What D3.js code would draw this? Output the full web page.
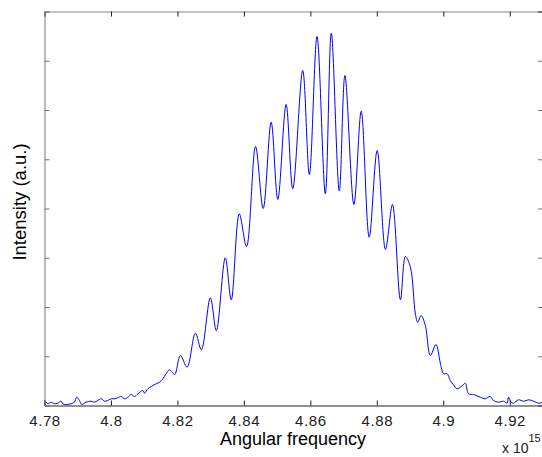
<!DOCTYPE html>
<html>
<head>
<meta charset="utf-8">
<script src="https://cdn.jsdelivr.net/npm/d3@7"></script>
<style>
html,body{margin:0;padding:0;background:#fff;overflow:hidden;}
svg{display:block;}
text{font-family:"Liberation Sans",Arial,sans-serif;}
</style>
</head>
<body>
<svg id="chart" width="542" height="457"></svg>
<script>
// Angular frequency (x 10^15)
const freq = [4.7800,4.7805,4.7810,4.7820,4.7830,4.7840,4.7850,4.7855,4.7865,4.7880,
4.7890,4.7897,4.7905,4.7912,4.7925,4.7940,4.7950,4.7960,4.7971,4.7980,
4.7990,4.8001,4.8011,4.8020,4.8031,4.8041,4.8051,4.8061,4.8071,4.8081,
4.8096,4.8101,4.8111,4.8121,4.8136,4.8146,4.8156,4.8166,4.8176,4.8184,
4.8192,4.8209,4.8229,4.8254,4.8272,4.8299,4.8317,4.8344,4.8362,4.8386,
4.8408,4.8435,4.8458,4.8482,4.8502,4.8527,4.8547,4.8577,4.8597,4.8620,
4.8645,4.8663,4.8687,4.8704,4.8731,4.8753,4.8777,4.8801,4.8826,4.8847,
4.8871,4.8886,4.8901,4.8916,4.8923,4.8933,4.8946,4.8961,4.8978,4.8991,
4.9001,4.9011,4.9021,4.9030,4.9041,4.9056,4.9066,4.9076,4.9091,4.9111,
4.9126,4.9141,4.9151,4.9166,4.9181,4.9192,4.9196,4.9204,4.9211,4.9226,
4.9242,4.9257,4.9272,4.9287,4.9300];
// Intensity (a.u.)
const intensity = [0.102,0.067,0.035,0.067,0.035,0.047,0.087,0.035,0.020,0.035,
0.067,0.169,0.102,0.020,0.067,0.087,0.067,0.102,0.136,0.087,
0.102,0.136,0.136,0.156,0.183,0.136,0.169,0.223,0.183,0.238,
0.305,0.250,0.339,0.386,0.441,0.473,0.542,0.644,0.725,0.676,
0.629,1.015,0.778,1.468,1.131,2.187,1.523,2.999,2.146,3.892,
3.228,5.259,4.000,5.752,4.183,6.112,4.400,6.802,4.690,7.492,
4.298,7.560,4.355,6.701,4.081,5.976,3.417,5.178,3.168,4.081,
2.146,3.025,2.808,1.862,1.691,1.827,1.624,1.015,1.239,0.863,
0.644,0.650,0.508,0.426,0.339,0.396,0.453,0.238,0.223,0.169,
0.136,0.183,0.102,0.067,0.087,0.047,0.169,0.067,0.047,0.116,
0.087,0.116,0.087,0.047,0.067];
const xTicks = [4.78,4.8,4.82,4.84,4.86,4.88,4.9,4.92];
const yTicks = [0,1,2,3,4,5,6,7,8];

const svg = d3.select("#chart");
const L = 44.5, R = 543, T = 11.5, B = 405.5;
const x = d3.scaleLinear().domain([4.78,4.93]).range([L,R]);
const y = d3.scaleLinear().domain([0,8]).range([B,T]);

const data = freq.map((f,i)=>({f, v: intensity[i]}));

// curve
svg.append("clipPath").attr("id","clip").append("rect")
  .attr("x",L).attr("y",T).attr("width",R-L).attr("height",B-T);
svg.append("path").datum(data)
  .attr("clip-path","url(#clip)")
  .attr("fill","none").attr("stroke","#0000ff").attr("stroke-width",1)
  .attr("d", d3.line().x(d=>x(d.f)).y(d=>y(d.v)).curve(d3.curveCatmullRom.alpha(0.5)));

// axes
const fmt = d => (+d.toFixed(2)).toString();
const gB = svg.append("g").attr("transform",`translate(0,${B})`)
  .call(d3.axisBottom(x).tickValues(xTicks).tickSize(-5).tickPadding(10).tickFormat(fmt));
const gT = svg.append("g").attr("transform",`translate(0,${T})`)
  .call(d3.axisTop(x).tickValues(xTicks).tickSize(-5).tickFormat(""));
const gL = svg.append("g").attr("transform",`translate(${L},0)`)
  .call(d3.axisLeft(y).tickValues(yTicks).tickSize(-5).tickFormat(""));
const gR = svg.append("g").attr("transform",`translate(${R},0)`)
  .call(d3.axisRight(y).tickValues(yTicks).tickSize(-5).tickFormat(""));
[gB,gT,gL,gR].forEach(g=>{
  g.select(".domain").attr("stroke","#222").attr("stroke-width",1);
  g.selectAll(".tick line").attr("stroke","#222");
});
gT.select(".domain").attr("stroke","#888");
gL.select(".domain").attr("stroke","#777");
gL.selectAll(".tick line").attr("stroke","#777");
gR.selectAll(".tick line").attr("stroke","#777");
gB.selectAll(".tick text").attr("font-size",15).attr("fill","#222")
  .attr("letter-spacing","0.6px")
  .attr("font-family","Liberation Sans, Arial, sans-serif").attr("dy","0.71em");

// labels
svg.append("text").attr("x",293).attr("y",445)
  .attr("text-anchor","middle").attr("font-size",18).attr("fill","#000")
  .text("Angular frequency");
svg.append("text").attr("transform",`translate(26,202) rotate(-90)`)
  .attr("text-anchor","middle").attr("font-size",18.5).attr("fill","#000")
  .text("Intensity (a.u.)");
const ex = svg.append("text").attr("x",502).attr("y",453).attr("font-size",14).attr("fill","#222");
ex.append("tspan").text("x 10");
ex.append("tspan").attr("dy",-11).attr("font-size",11).text("15");
</script>
</body>
</html>
